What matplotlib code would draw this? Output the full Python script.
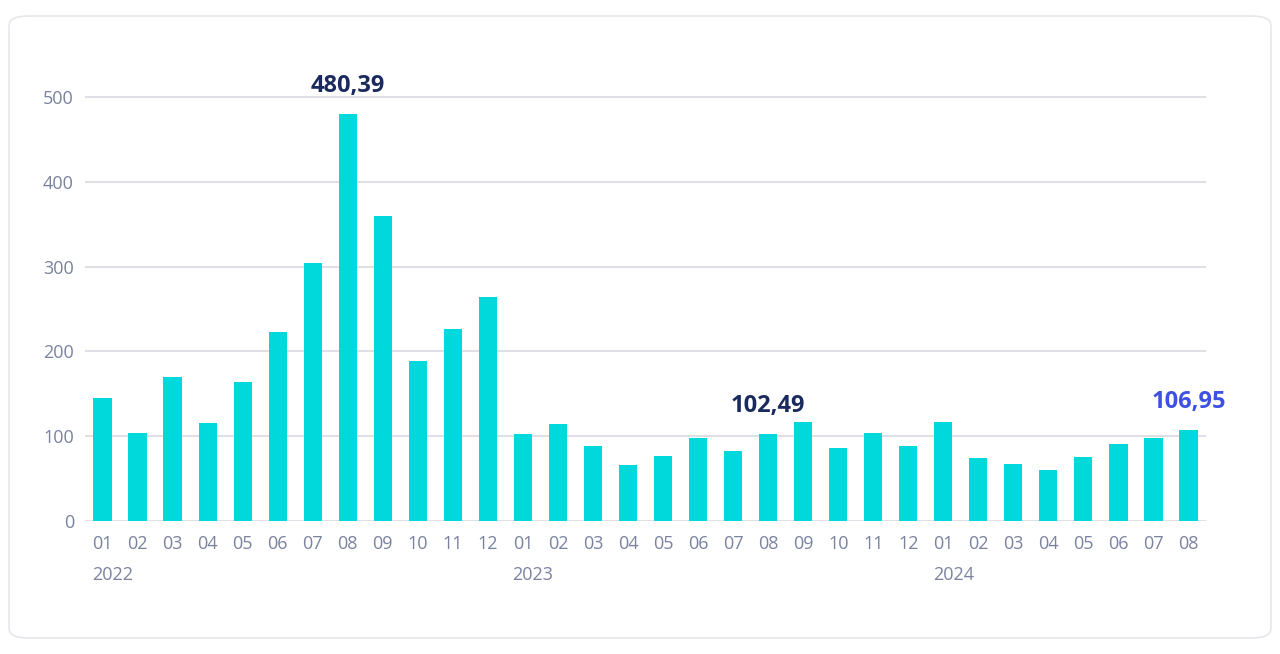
import matplotlib.pyplot as plt
from matplotlib.patches import FancyBboxPatch

plt.rcParams['font.family'] = ['Open Sans', 'DejaVu Sans']

# monthly values 2022-01 .. 2024-08
months = ['01', '02', '03', '04', '05', '06', '07', '08', '09', '10', '11', '12',
          '01', '02', '03', '04', '05', '06', '07', '08', '09', '10', '11', '12',
          '01', '02', '03', '04', '05', '06', '07', '08']
values = [145, 104, 170, 116, 164, 223, 304, 480.39, 360, 189, 226, 264,
          102.6, 114, 88, 66, 77, 98, 82.5, 102.49, 117, 86, 104, 88,
          117, 74, 67, 60, 75, 91, 98, 106.95]
years = ['2022', '2023', '2024']
year_start = [0, 12, 24]
labels = {7: '480,39', 19: '102,49', 31: '106,95'}
label_colors = {7: '#1b2a5e', 19: '#1b2a5e', 31: '#3f51e0'}

fig = plt.figure(figsize=(12.8, 6.54), dpi=100)
fig.patch.set_facecolor('white')

# card background
card = FancyBboxPatch((9 / 1280, 16 / 654), 1262 / 1280, 622 / 654,
                      boxstyle='round,pad=0,rounding_size=0.015',
                      transform=fig.transFigure, facecolor='white',
                      edgecolor='#e6e7ec', linewidth=1.2, zorder=-5)
fig.patches.append(card)

ax = fig.add_axes([85 / 1280, 133 / 654, 1121 / 1280, 458 / 654])
ax.set_zorder(2)
ax.set_facecolor('none')

x = list(range(len(values)))
ax.bar(x, values, width=0.52, color='#00d9dc', zorder=3)

ax.set_xlim(-0.5, len(values) - 0.5)
ax.set_ylim(0, 540)
ax.set_yticks([0, 100, 200, 300, 400, 500])
ax.grid(axis='y', color='#dcdde3', linewidth=1.3, zorder=0)
ax.set_axisbelow(True)
ax.set_xticks(x)
ax.set_xticklabels(months)
ax.tick_params(axis='both', length=0, labelsize=13, colors='#7a82a0')
ax.tick_params(axis='x', pad=10)
ax.tick_params(axis='y', pad=8)
for s in ax.spines.values():
    s.set_visible(False)

for xs, yr in zip(year_start, years):
    ax.text(xs - 0.3, -0.118, yr, transform=ax.get_xaxis_transform(),
            ha='left', va='center', fontsize=13, color='#7a82a0')

for i, txt in labels.items():
    ax.annotate(txt, (i, values[i]), xytext=(0, 28), textcoords='offset pixels',
                ha='center', va='center', fontsize=17, fontweight='bold',
                color=label_colors[i])

fig.savefig('out.png', dpi=100, facecolor='white')
